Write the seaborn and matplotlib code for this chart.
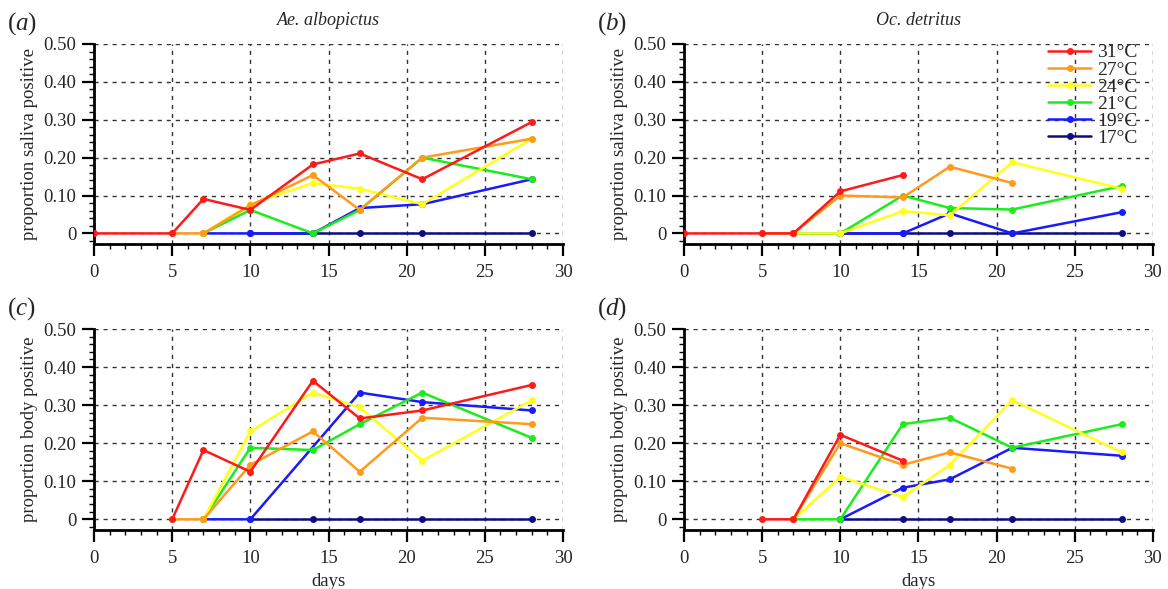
import pandas as pd
import matplotlib
matplotlib.use("Agg")
import matplotlib.pyplot as plt
from matplotlib.ticker import MultipleLocator, FuncFormatter
from matplotlib.lines import Line2D
import seaborn as sns

sns.set_style("ticks")
plt.rcParams["font.family"] = ["Liberation Serif", "DejaVu Serif"]
plt.rcParams["mathtext.fontset"] = "custom"
plt.rcParams["mathtext.it"] = "Liberation Serif:italic"
plt.rcParams["mathtext.rm"] = "Liberation Serif"

temps = ["31°C", "27°C", "24°C", "21°C", "19°C", "17°C"]
colors = ["#ff1a1a", "#ff9a1a", "#ffff1a", "#1aee1a", "#1a1aff", "#0d0d80"]

# (a) Ae. albopictus, saliva
a_days = {
    "31°C": [0, 5, 7, 10, 14, 17, 21, 28],
    "27°C": [5, 7, 10, 14, 17, 21, 28],
    "24°C": [7, 10, 14, 17, 21, 28],
    "21°C": [7, 10, 14, 17, 21, 28],
    "19°C": [7, 10, 14, 17, 21, 28],
    "17°C": [10, 14, 17, 21, 28],
}
a_vals = {
    "31°C": [0, 0, 0.091, 0.062, 0.182, 0.211, 0.143, 0.294],
    "27°C": [0, 0, 0.074, 0.154, 0.062, 0.200, 0.250],
    "24°C": [0, 0.077, 0.133, 0.118, 0.077, 0.250],
    "21°C": [0, 0.062, 0, 0.062, 0.200, 0.143],
    "19°C": [0, 0, 0, 0.067, 0.077, 0.143],
    "17°C": [0, 0, 0, 0, 0],
}

# (b) Oc. detritus, saliva
b_days = {
    "31°C": [0, 5, 7, 10, 14],
    "27°C": [5, 7, 10, 14, 17, 21],
    "24°C": [7, 10, 14, 17, 21, 28],
    "21°C": [7, 10, 14, 17, 21, 28],
    "19°C": [7, 10, 14, 17, 21, 28],
    "17°C": [10, 14, 17, 21, 28],
}
b_vals = {
    "31°C": [0, 0, 0, 0.111, 0.154],
    "27°C": [0, 0, 0.100, 0.095, 0.176, 0.133],
    "24°C": [0, 0, 0.059, 0.048, 0.188, 0.118],
    "21°C": [0, 0, 0.100, 0.067, 0.063, 0.125],
    "19°C": [0, 0, 0, 0.053, 0, 0.056],
    "17°C": [0, 0, 0, 0, 0],
}

# (c) Ae. albopictus, body
c_days = {
    "31°C": [5, 7, 10, 14, 17, 21, 28],
    "27°C": [5, 7, 10, 14, 17, 21, 28],
    "24°C": [7, 10, 14, 17, 21, 28],
    "21°C": [7, 10, 14, 17, 21, 28],
    "19°C": [7, 10, 17, 21, 28],
    "17°C": [10, 14, 17, 21, 28],
}
c_vals = {
    "31°C": [0, 0.182, 0.125, 0.364, 0.265, 0.286, 0.353],
    "27°C": [0, 0, 0.143, 0.231, 0.125, 0.267, 0.250],
    "24°C": [0, 0.231, 0.333, 0.294, 0.154, 0.313],
    "21°C": [0, 0.188, 0.182, 0.250, 0.333, 0.214],
    "19°C": [0, 0, 0.333, 0.308, 0.286],
    "17°C": [0, 0, 0, 0, 0],
}

# (d) Oc. detritus, body
d_days = {
    "31°C": [5, 7, 10, 14],
    "27°C": [7, 10, 14, 17, 21],
    "24°C": [7, 10, 14, 17, 21, 28],
    "21°C": [7, 10, 14, 17, 21, 28],
    "19°C": [10, 14, 17, 21, 28],
    "17°C": [10, 14, 17, 21, 28],
}
d_vals = {
    "31°C": [0, 0, 0.222, 0.154],
    "27°C": [0, 0.200, 0.143, 0.176, 0.133],
    "24°C": [0, 0.111, 0.059, 0.143, 0.313, 0.176],
    "21°C": [0, 0, 0.250, 0.267, 0.188, 0.250],
    "19°C": [0, 0.083, 0.105, 0.188, 0.167],
    "17°C": [0, 0, 0, 0, 0],
}

panels = [
    ("a", "Ae. albopictus", "proportion saliva positive", a_days, a_vals),
    ("b", "Oc. detritus", "proportion saliva positive", b_days, b_vals),
    ("c", None, "proportion body positive", c_days, c_vals),
    ("d", None, "proportion body positive", d_days, d_vals),
]

fig = plt.figure(figsize=(11.68, 5.89), dpi=100)
rects = [
    [0.0805, 0.5857, 0.4015, 0.3396],
    [0.5856, 0.5857, 0.4015, 0.3396],
    [0.0805, 0.1002, 0.4015, 0.3412],
    [0.5856, 0.1002, 0.4015, 0.3412],
]
palette = dict(zip(temps, colors))
draw_order = temps[::-1]

for i, (tag, title, ylab, days, vals) in enumerate(panels):
    ax = fig.add_axes(rects[i])
    rows = []
    for t in temps:
        for d, v in zip(days[t], vals[t]):
            rows.append({"day": d, "prop": v, "temp": t})
    df = pd.DataFrame(rows)
    sns.lineplot(data=df, x="day", y="prop", hue="temp", hue_order=draw_order,
                 palette=palette, marker="o", markersize=5, markeredgewidth=0,
                 linewidth=1.8, ax=ax, legend=False, zorder=3)

    ax.set_xlim(0, 30)
    ax.xaxis.set_major_locator(MultipleLocator(5))
    ax.xaxis.set_minor_locator(MultipleLocator(1))
    ax.yaxis.set_major_locator(MultipleLocator(0.1))
    ax.yaxis.set_minor_locator(MultipleLocator(0.02))
    ax.yaxis.set_major_formatter(FuncFormatter(lambda v, p: "0" if abs(v) < 1e-9 else f"{v:.2f}"))
    ax.set_ylim(-0.028, 0.5)
    ax.grid(True, which="major", color="#333333", linestyle=(0, (3, 3.5)), linewidth=1.0)
    for s in ["top", "right"]:
        ax.spines[s].set_visible(False)
    for s in ["left", "bottom"]:
        ax.spines[s].set_linewidth(2.0)
        ax.spines[s].set_color("black")
    ax.tick_params(which="major", length=8.6, width=1.6, color="black", labelsize=13.5, pad=4)
    ax.tick_params(axis="x", which="major", pad=6)
    ax.tick_params(which="minor", length=3.6, width=1.0, color="black")
    ax.set_ylabel(ylab, fontsize=13.5, labelpad=4)
    if i >= 2:
        ax.set_xlabel("days", fontsize=13.5, labelpad=4)
    else:
        ax.set_xlabel("")
    if title:
        ax.set_title(title, fontsize=13, style="italic", pad=14)
    ax.text(-0.185, 1.035, "(" + r"$\it{" + tag + "}$" + ")", transform=ax.transAxes,
            fontsize=18, va="bottom", ha="left")

    if tag == "b":
        handles = [Line2D([], [], color=palette[t], marker="o", markersize=5,
                          markeredgewidth=0, linewidth=1.8) for t in temps]
        ax.legend(handles, temps, loc="upper right", bbox_to_anchor=(0.975, 1.02),
                  frameon=False, fontsize=14, labelspacing=-0.03, handlelength=2.2,
                  handletextpad=0.3, borderaxespad=0.0, borderpad=0.2)

fig.savefig("out.png", dpi=100)
